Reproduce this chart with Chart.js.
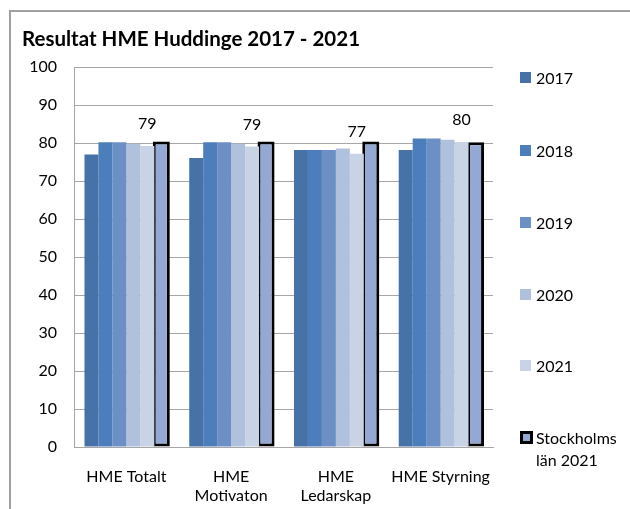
<!DOCTYPE html>
<html lang="sv">
<head>
<meta charset="UTF-8">
<title>Resultat HME Huddinge 2017 - 2021</title>
<script src="https://cdn.jsdelivr.net/npm/chart.js"></script>
<style>
  html, body { margin: 0; padding: 0; background: #fff; }
  body { width: 630px; height: 509px; overflow: hidden; position: relative; font-family: Lato, "Open Sans", sans-serif; }
  #frame { position: absolute; left: 9px; top: 10px; width: 700px; height: 600px;
           border-left: 2px solid #a0a0a0; border-top: 2px solid #a0a0a0; }
  #myChart { position: absolute; left: 0; top: 0; }
  #legend { position: absolute; left: 520px; top: 0; font-size: 16px; color: #000; }
  .item { position: absolute; left: 0; display: flex; align-items: flex-start; white-space: nowrap; line-height: 22px; }
  .box { width: 11px; height: 11px; margin: 5px 5px 0 0; box-sizing: border-box; flex: none; }
</style>
</head>
<body>
<div id="frame"></div>
<canvas id="myChart" width="630" height="509"></canvas>
<div id="legend"></div>

<script>
  // data
  const categories = ['HME Totalt', ['HME', 'Motivaton'], ['HME', 'Ledarskap'], 'HME Styrning'];
  const seriesNames = ['2017', '2018', '2019', '2020', '2021'];
  const values2017 = [77.0, 76.1, 78.2, 78.2];
  const values2018 = [80.2, 80.2, 78.2, 81.2];
  const values2019 = [80.2, 80.2, 78.2, 81.2];
  const values2020 = [79.8, 79.8, 78.6, 80.9];
  const values2021 = [79.2, 79.1, 77.2, 80.3];
  const stockholmName = ['Stockholms', 'län 2021'];
  const stockholm2021 = [80.4, 80.4, 80.4, 80.2];

  const seriesColors = ['#4672a8', '#4c7ebc', '#6c8fc6', '#b0c1dd', '#c9d3e6'];
  const stockholmColor = '#93a8d2';
  const gridColor = '#a6a6a6';

  const datasets = [values2017, values2018, values2019, values2020, values2021].map((vals, i) => ({
    label: seriesNames[i],
    data: vals,
    backgroundColor: seriesColors[i],
    borderWidth: 0,
  }));
  datasets.push({
    label: stockholmName.join(' '),
    data: stockholm2021,
    backgroundColor: stockholmColor,
    borderColor: '#000',
    borderWidth: 3,
    borderSkipped: false,
    barPercentage: 1.22,
  });

  // etiketter ovanför 2021-staplarna
  const label2021 = {
    id: 'label2021',
    afterDatasetsDraw(chart) {
      const ctx = chart.ctx;
      const meta = chart.getDatasetMeta(4);
      ctx.save();
      ctx.font = '16px Lato';
      ctx.fillStyle = '#000';
      ctx.textAlign = 'center';
      ctx.textBaseline = 'middle';
      meta.data.forEach((bar, i) => {
        ctx.fillText(Math.round(values2021[i]), bar.x, bar.y - 22);
      });
      ctx.restore();
    }
  };

  const ctx = document.getElementById('myChart').getContext('2d');
  new Chart(ctx, {
    type: 'bar',
    data: { labels: categories, datasets: datasets },
    options: {
      responsive: false,
      animation: false,
      layout: { padding: { left: 22, right: 137, top: 0, bottom: 0 } },
      datasets: { bar: { categoryPercentage: 0.8, barPercentage: 1.0 } },
      plugins: {
        legend: { display: false },
        tooltip: { enabled: false },
        title: {
          display: true,
          text: 'Resultat HME Huddinge 2017 - 2021',
          align: 'start',
          color: '#000',
          font: { family: 'Lato', size: 20.5, weight: 'bold' },
          padding: { top: 27, bottom: 15.5 },
        },
      },
      scales: {
        x: {
          grid: { display: false },
          border: { display: true, color: gridColor, width: 1 },
          ticks: {
            color: '#000',
            font: { family: 'Lato', size: 16 },
            padding: 12,
            maxRotation: 0,
            autoSkip: false,
          },
          afterFit(scale) { scale.height = 62; },
        },
        y: {
          min: 0,
          max: 100,
          grid: { color: gridColor, drawTicks: false },
          border: { display: true, color: gridColor, width: 1 },
          ticks: {
            stepSize: 10,
            color: '#000',
            font: { family: 'Lato', size: 16 },
            padding: 17,
          },
          afterFit(scale) { scale.width = 52; },
        },
      },
    },
    plugins: [label2021],
  });

  // legend till höger
  const legend = document.getElementById('legend');
  const legendCenters = [78, 150.5, 222.7, 295, 366, 438];
  seriesNames.concat([stockholmName]).forEach((name, i) => {
    const item = document.createElement('div');
    item.className = 'item';
    item.style.top = (legendCenters[i] - 11) + 'px';
    const box = document.createElement('div');
    box.className = 'box';
    if (i < seriesNames.length) {
      box.style.background = seriesColors[i];
    } else {
      box.style.background = stockholmColor;
      box.style.border = '3px solid #000';
      box.style.width = '13px';
      box.style.height = '13px';
      box.style.margin = '4px 3px 0 0';
    }
    const text = document.createElement('div');
    text.innerHTML = Array.isArray(name) ? name.join('<br>') : name;
    item.appendChild(box);
    item.appendChild(text);
    legend.appendChild(item);
  });
</script>
</body>
</html>
